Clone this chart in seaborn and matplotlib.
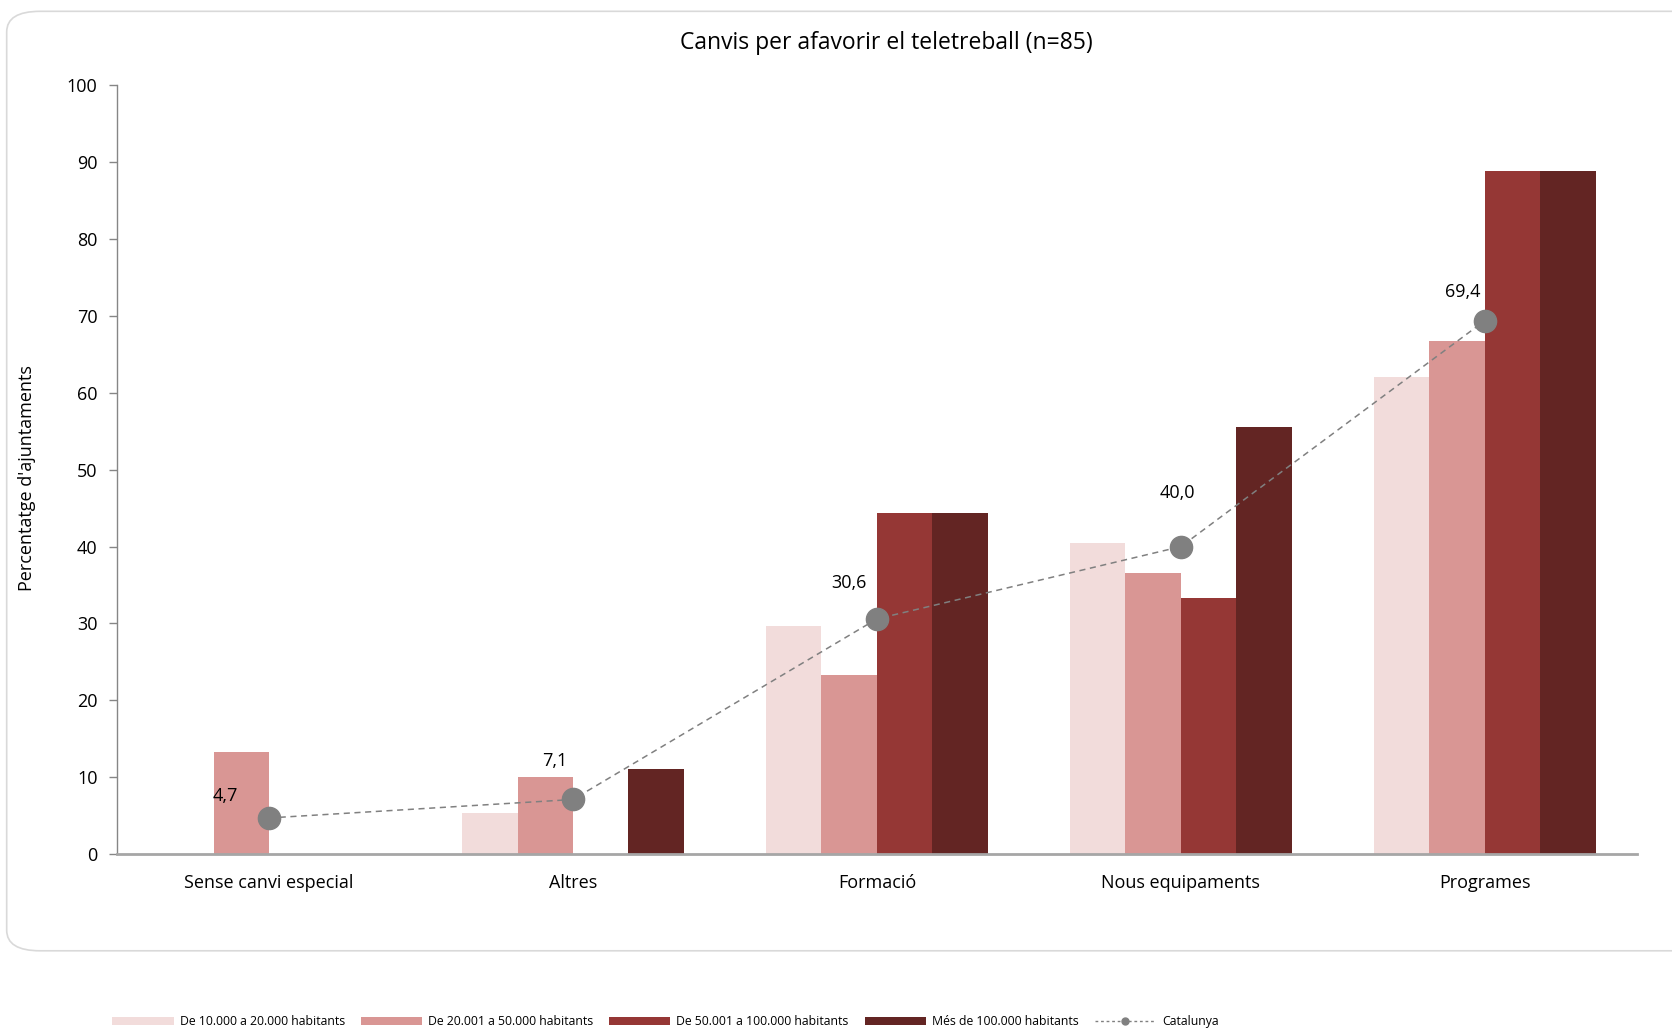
import matplotlib
matplotlib.use("Agg")
import matplotlib.pyplot as plt
from matplotlib.patches import FancyBboxPatch, Patch
from matplotlib.lines import Line2D
import numpy as np
import pandas as pd
import seaborn as sns

categories = ["Sense canvi especial", "Altres", "Formació", "Nous equipaments", "Programes"]
series_names = ["De 10.000 a 20.000 habitants", "De 20.001 a 50.000 habitants",
                "De 50.001 a 100.000 habitants", "Més de 100.000 habitants"]
s_10_20 = [0.0, 5.4, 29.7, 40.5, 62.1]
s_20_50 = [13.3, 10.0, 23.3, 36.6, 66.7]
s_50_100 = [0.0, 0.0, 44.4, 33.3, 88.9]
s_100_plus = [0.0, 11.1, 44.4, 55.5, 88.9]
catalunya = [4.7, 7.1, 30.6, 40.0, 69.4]
catalunya_labels = ["4,7", "7,1", "30,6", "40,0", "69,4"]

colors = ["#F2DCDB", "#D99694", "#953735", "#632523"]

# long form per a seaborn
rows = []
for name, vals in zip(series_names, [s_10_20, s_20_50, s_50_100, s_100_plus]):
    for cat, v in zip(categories, vals):
        rows.append({"categoria": cat, "serie": name, "valor": v})
df = pd.DataFrame(rows)

sns.set_theme(style="white")
plt.rcParams["font.family"] = ["Open Sans", "DejaVu Sans"]
plt.rcParams["text.color"] = "black"
plt.rcParams["xtick.color"] = "black"
plt.rcParams["ytick.color"] = "black"

fig = plt.figure(figsize=(16.72, 10.29), dpi=100)
ax = fig.add_axes([0.070, 0.170, 0.909, 0.747])

# marc arrodonit
frame = FancyBboxPatch((0.004, 0.076), 1.05, 0.913, transform=fig.transFigure,
                       boxstyle="round,pad=0,rounding_size=0.02", facecolor="none",
                       edgecolor="#D9D9D9", linewidth=1.2, zorder=-1)
fig.patches.append(frame)

sns.barplot(data=df, x="categoria", y="valor", hue="serie", order=categories,
            hue_order=series_names, palette=colors, saturation=1, width=0.73, gap=0,
            linewidth=0, errorbar=None, legend=False, ax=ax)

xs = np.arange(len(categories))
ax.plot(xs, catalunya, linestyle=(0, (4, 3)), color="#808080", linewidth=1.1,
        marker="o", markersize=16, markerfacecolor="#808080",
        markeredgecolor="#808080", zorder=5)

label_offsets = [(-44, 22), (-18, 38), (-28, 36), (-4, 54), (-22, 29)]
for x, y, txt, off in zip(xs, catalunya, catalunya_labels, label_offsets):
    ax.annotate(txt, (x, y), xytext=off, textcoords="offset pixels",
                ha="center", va="center", fontsize=13, color="black", zorder=6)

ax.set_xlim(-0.5, len(categories) - 0.5)
ax.set_ylim(0, 100)
ax.set_yticks(range(0, 101, 10))
ax.set_xlabel("")
ax.set_ylabel("")
ax.tick_params(axis="y", labelsize=13, left=True, length=6, width=1, color="#868686", pad=8)
ax.tick_params(axis="x", labelsize=13, bottom=False, pad=8)

for side in ["top", "right"]:
    ax.spines[side].set_visible(False)
ax.spines["left"].set_color("#868686")
ax.spines["left"].set_linewidth(1)
ax.spines["bottom"].set_color("#A6A6A6")
ax.spines["bottom"].set_linewidth(2)

fig.text(0.530, 0.958, "Canvis per afavorir el teletreball (n=85)", ha="center",
         va="center", fontsize=16.5)
fig.text(0.016, 0.535, "Percentatge d'ajuntaments", rotation=90, ha="center",
         va="center", fontsize=13)

handles = [Patch(facecolor=c, edgecolor="none") for c in colors]
handles.append(Line2D([0], [0], color="#808080", linestyle=(0, (2, 2)), linewidth=1,
                      marker="o", markersize=5))
fig.legend(handles, series_names + ["Catalunya"], loc="lower center",
           bbox_to_anchor=(0.398, -0.010), ncol=5, frameon=False, fontsize=8.8,
           handlelength=5.0, handleheight=0.6, columnspacing=1.3, handletextpad=0.5)

fig.savefig("out.png", dpi=100)
